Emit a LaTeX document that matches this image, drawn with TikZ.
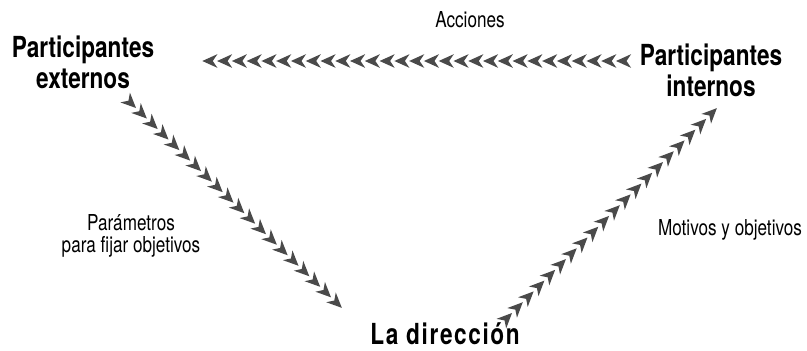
\documentclass[tikz,border=0pt]{standalone}
\usepackage{fontspec}
\setmainfont{TeX Gyre Heros}[FakeStretch=0.78]
\usepackage{tikz}
\definecolor{gray700}{HTML}{4A4A4A}
\usetikzlibrary{arrows.meta,decorations.markings}
\tikzstyle{actor}=[align=center, font=\bfseries\fontsize{16.5}{17.5}\selectfont, inner sep=0pt]
\tikzstyle{etiqueta}=[align=center, font=\fontsize{12.5}{12.5}\selectfont, inner sep=0pt]
\tikzset{cadena/.style={gray700, postaction={decorate, decoration={markings, mark=between positions 0 and 1 step #1 with {\arrow{Stealth[length=0.3cm, width=0.27cm, inset=0.09cm]}}}}}}

\begin{document}
\begin{tikzpicture}[thick]
					\useasboundingbox (0,0) rectangle (16.14,7);
					\node[actor] (ext) at (1.66,5.76) {Participantes\\externos};
					\node[actor] (int) at (14.22,5.60) {Participantes\\internos};
					\node[actor, font=\bfseries\fontsize{16.5}{17.5}\selectfont\addfontfeature{LetterSpace=5.5}] (dir) at (8.90,0.33) {La dirección};
					\node[etiqueta] (acc) at (9.40,6.60) {Acciones};
					\node[etiqueta] (par) at (2.62,2.28) {Parámetros\\para fijar objetivos};
					\node[etiqueta] (mot) at (14.60,2.40) {Motivos y objetivos};
					\coordinate (a1) at (12.32,5.78);
					\coordinate (a2) at (4.04,5.78);
					\coordinate (b1) at (2.72,4.84);
					\coordinate (b2) at (6.84,0.84);
					\coordinate (c1) at (10.24,0.74);
					\coordinate (c2) at (14.34,4.84);
					\path[cadena=0.2955cm] (a1) -- (a2);
					\path[cadena=0.302cm] (b1) -- (b2);
					\path[cadena=0.305cm] (c1) -- (c2);
				\end{tikzpicture}
\end{document}
